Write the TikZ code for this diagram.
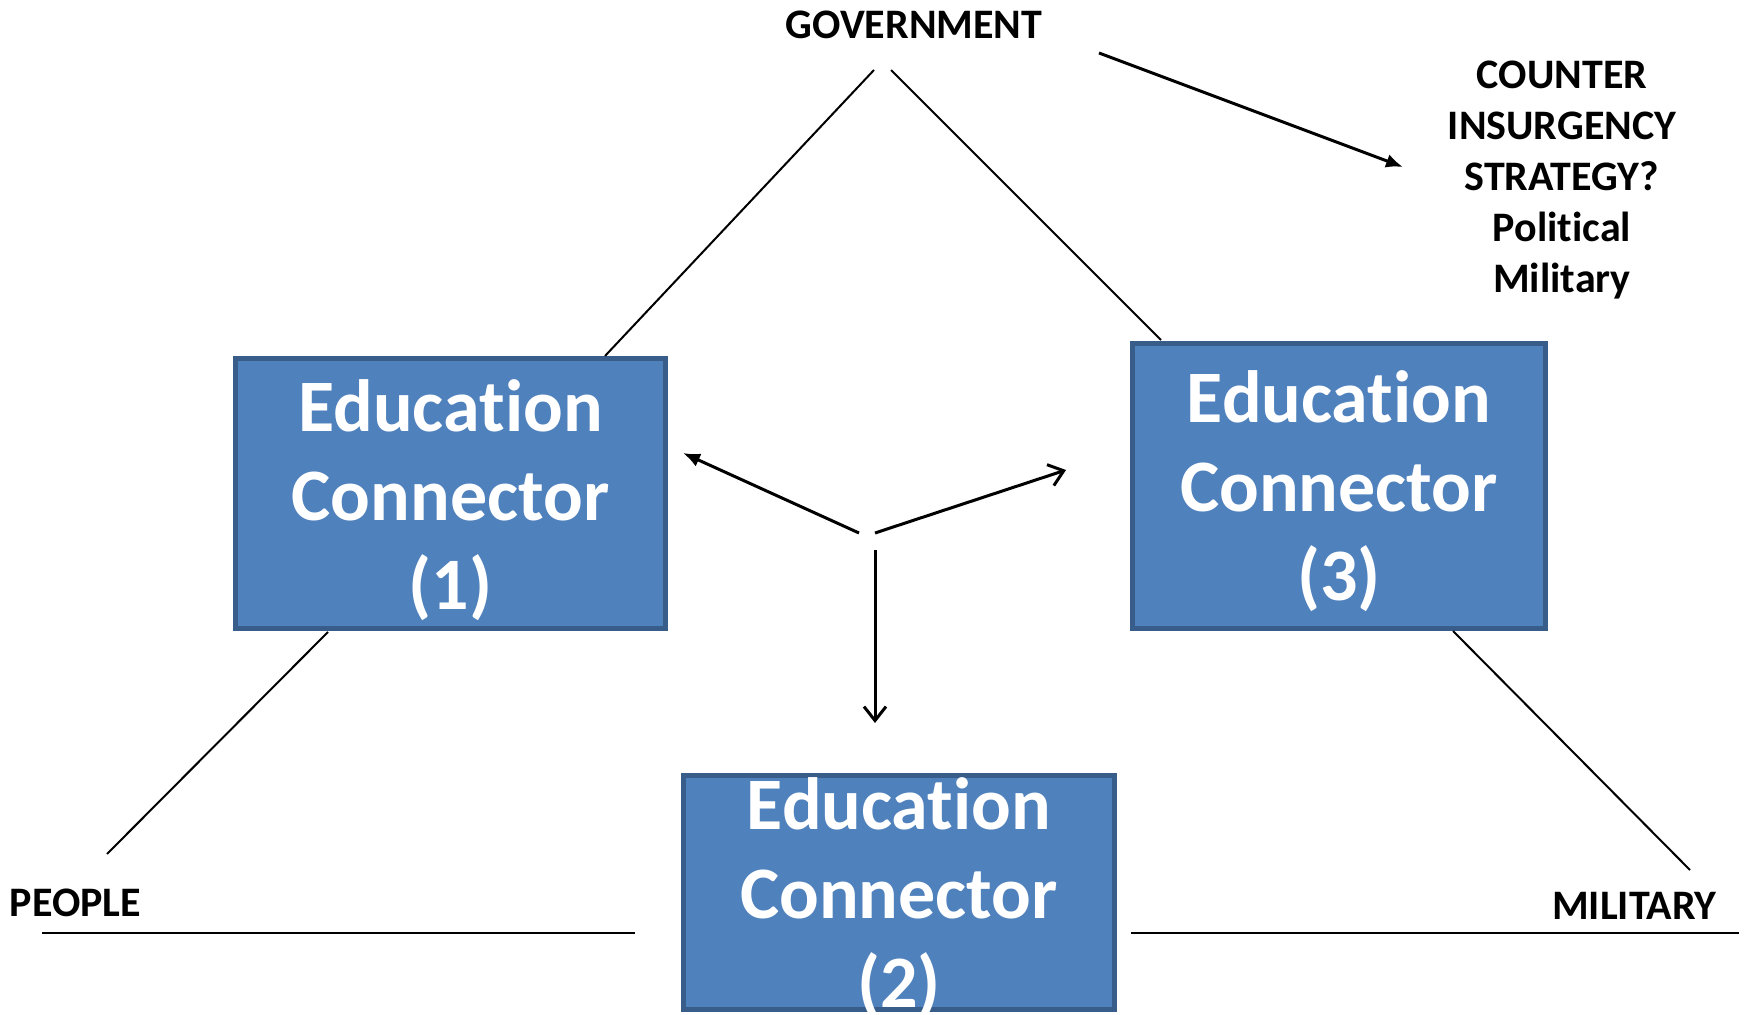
\documentclass[tikz,border=0pt]{standalone}
\usepackage{fontspec}
\setmainfont{Carlito}[Ligatures=NoCommon]
\usetikzlibrary{arrows.meta}
\definecolor{boxfill}{HTML}{4F81BD}
\definecolor{boxborder}{HTML}{385D8A}
\begin{document}
\begin{tikzpicture}[x=0.5pt,y=-0.5pt,
  cbox/.style={draw=boxborder, fill=boxfill, line width=2.5pt, inner sep=0pt, rectangle},
  btext/.style={text=white, font=\bfseries\fontsize{37}{44.5}\selectfont, align=center, inner sep=0pt},
  lbl/.style={font=\bfseries\fontsize{21}{25.5}\selectfont, align=center, inner sep=0pt},
  thinline/.style={line width=1pt},
  baseline/.style={line width=1.3pt},
  arr/.style={line width=1.5pt},
  filledtip/.style={arr, -{Latex[length=8.5pt,width=7pt]}},
  opentip/.style={arr, -{Straight Barb[length=7pt,width=11pt]}}]
\useasboundingbox (0,0) rectangle (1746,1015);
% boxes
\node[cbox, minimum width=215pt, minimum height=135pt] (box1) at (450.5,493.5) {};
\node[cbox, minimum width=206.5pt, minimum height=142.5pt] (box3) at (1339,486) {};
\node[cbox, minimum width=215.5pt, minimum height=117pt] (box2) at (899,892.5) {};
% box texts
\node[btext] (t1) at (450.5,500) {Education\\Connector\\(1)};
\node[btext] (t3) at (1339,491.5) {Education\\Connector\\(3)};
\node[btext] (t2) at (899,898.5) {Education\\Connector\\(2)};
% labels
\node[lbl] (gov) at (914,25) {GOVERNMENT};
\node[lbl] (people) at (75.5,903) {PEOPLE};
\node[lbl] (mil) at (1634.5,906) {MILITARY};
\node[lbl] (cis) at (1562,180) {COUNTER\\INSURGENCY\\STRATEGY?\\Political\\Military};
% connector end points
\coordinate (g1) at (874,70);
\coordinate (b1top) at (605,356);
\coordinate (g3) at (891,70);
\coordinate (b3top) at (1161,340);
\coordinate (b1bot) at (328,632);
\coordinate (pp) at (107,854);
\coordinate (b3bot) at (1453,631);
\coordinate (mm) at (1690,870);
\coordinate (hl1) at (42,933);
\coordinate (hl2) at (635,933);
\coordinate (hr1) at (1131,933);
\coordinate (hr2) at (1739,933);
\coordinate (ga) at (1099,53);
\coordinate (ca) at (1403,167);
\coordinate (cl) at (859,533);
\coordinate (cr) at (875,533);
\coordinate (cd) at (875,550);
\coordinate (al) at (683,453);
\coordinate (ar) at (1066,470);
\coordinate (ad) at (875,723);
% lines
\draw[thinline] (g1) -- (b1top);
\draw[thinline] (g3) -- (b3top);
\draw[thinline] (b1bot) -- (pp);
\draw[thinline] (b3bot) -- (mm);
\draw[baseline] (hl1) -- (hl2);
\draw[baseline] (hr1) -- (hr2);
% arrows
\draw[filledtip] (ga) -- (ca);
\draw[filledtip] (cl) -- (al);
\draw[opentip] (cr) -- (ar);
\draw[opentip] (cd) -- (ad);
\end{tikzpicture}
\end{document}
